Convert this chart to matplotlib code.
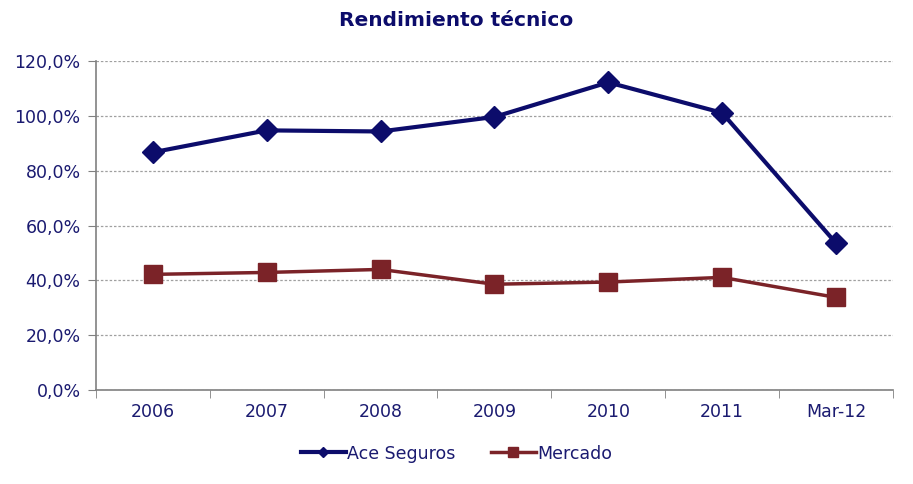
import numpy as np
import matplotlib
matplotlib.use("Agg")
import matplotlib.pyplot as plt
import matplotlib.ticker as ticker

categories = ["2006", "2007", "2008", "2009", "2010", "2011", "Mar-12"]
ace = [86.7, 94.7, 94.3, 99.6, 112.2, 101.1, 53.6]
mercado = [42.2, 42.9, 44.0, 38.6, 39.4, 41.1, 33.8]

navy = "#0c0c6b"
maroon = "#7b2328"
txt = "#1a1a70"

fig = plt.figure(figsize=(9.13, 4.84), dpi=100)
ax = fig.add_axes([0.105, 0.194, 0.873, 0.680])

x = np.arange(len(categories))
ax.plot(x, ace, color=navy, lw=3, marker="D", ms=11, mec=navy, mfc=navy, label="Ace Seguros", zorder=3)
ax.plot(x, mercado, color=maroon, lw=2.5, marker="s", ms=13, mec=maroon, mfc=maroon, label="Mercado", zorder=3)

ax.set_xlim(-0.5, len(categories) - 0.5)
ax.set_ylim(0, 120)
ax.set_yticks(np.arange(0, 121, 20))
ax.yaxis.set_major_formatter(ticker.FuncFormatter(lambda v, p: f"{v:.1f}%".replace(".", ",")))
ax.grid(axis="y", color="#a0a0a0", ls=(0, (2, 1.5)), lw=0.9)
ax.set_axisbelow(True)

ax.set_xticks(x)
ax.set_xticklabels(categories)
ax.set_xticks(np.arange(-0.5, len(categories), 1), minor=True)
ax.tick_params(axis="x", which="major", length=0, pad=9, labelsize=12.5, labelcolor=txt)
ax.tick_params(axis="x", which="minor", length=6, color="#808080", direction="out")
ax.tick_params(axis="y", length=6, color="#808080", labelsize=12.5, labelcolor=txt, pad=5)

for s in ["top", "right"]:
    ax.spines[s].set_visible(False)
for s in ["left", "bottom"]:
    ax.spines[s].set_color("#808080")
    ax.spines[s].set_linewidth(1.2)

fig.text(0.5, 0.957, "Rendimiento técnico", ha="center", va="center",
         fontsize=14.5, fontweight="bold", color=navy)

leg = fig.legend(loc="center", bbox_to_anchor=(0.5, 0.063), ncol=2, frameon=False,
                 fontsize=12.5, handlelength=2.6, columnspacing=2.0, handletextpad=0.1,
                 markerscale=0.5)
for t in leg.get_texts():
    t.set_color(txt)

fig.savefig("out.png", dpi=100)
